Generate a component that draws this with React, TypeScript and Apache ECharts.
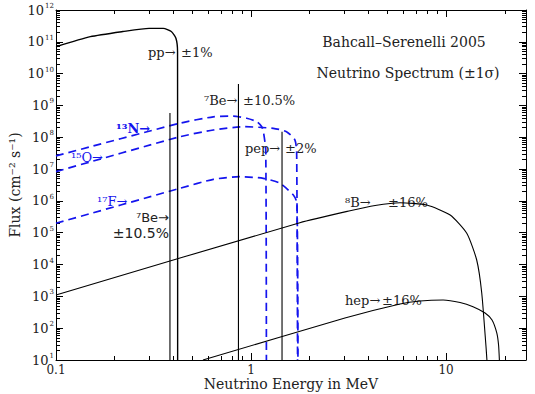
import React, { useEffect, useRef } from "react";
import * as echarts from "echarts";

// ---- Data (energy in MeV, flux in cm^-2 s^-1 [MeV^-1]) ----
const ppE = [0.1, 0.15, 0.22, 0.3, 0.355, 0.39, 0.412, 0.42, 0.4205];
const ppF = [7.0e10, 1.45e11, 2.1e11, 2.65e11, 2.65e11, 2.1e11, 1.3e11, 5e10, 10];

const n13E = [0.1, 0.43, 0.64, 0.81, 0.95, 1.07, 1.135, 1.16, 1.19, 1.199];
const n13F = [2.6e7, 2.75e8, 4.4e8, 4.65e8, 3.95e8, 3.1e8, 2.15e8, 1.35e8, 4e7, 10];

const o15E = [0.1, 0.432, 0.641, 0.913, 1.3, 1.52, 1.68, 1.714, 1.732];
const o15F = [8.3e6, 1.04e8, 1.69e8, 2.15e8, 1.91e8, 1.5e8, 8.2e7, 3.2e7, 10];

const f17E = [0.1, 0.432, 0.641, 0.878, 1.156, 1.408, 1.648, 1.72, 1.74];
const f17F = [1.98e5, 2.49e6, 4.78e6, 5.77e6, 5.13e6, 3.57e6, 1.53e6, 8.6e5, 10];

const b8E = [0.1, 1.78, 3.22, 4.33, 5.81, 7.96, 10.5, 12.77, 14.36, 15.24, 16.03, 16.2];
const b8F = [1.1e3, 2.07e5, 4.92e5, 7.17e5, 8.8e5, 7.43e5, 3.6e5, 9.6e4, 1.39e4, 1.28e3, 26, 10];

const hepE = [0.567, 3.03, 5.81, 7.36, 9.66, 11.8, 13.75, 15.85, 17.21, 18.2, 18.59, 18.77];
const hepF = [10, 209, 575, 715, 769, 641, 473, 300, 181, 71, 29.6, 10];

// Line sources (energy, flux at top of line)
const lineE = [0.384, 0.862, 1.442];
const lineF = [5.8e8, 4.7e9, 1.5e8];

// Axis ticks
const xMajor = [0.1, 1, 10];
const xMinor = [0.2, 0.3, 0.4, 0.5, 0.6, 0.7, 0.8, 0.9, 2, 3, 4, 5, 6, 7, 8, 9, 20];
const yExponents = [1, 2, 3, 4, 5, 6, 7, 8, 9, 10, 11, 12];
const yMinorMult = [2, 3, 4, 5, 6, 7, 8, 9];

const X_MIN = 0.1;
const X_MAX = 25.7;
const Y_MIN = 10;
const Y_MAX = 1e12;

const L = Math.log10;
const SERIF = "'DejaVu Serif', 'Liberation Serif', serif";
const SANS = "'DejaVu Sans', sans-serif";
const BLUE = "#1414ee";
const TXT = "#222";

const pts = (E: number[], F: number[]) => E.map((e, i) => [L(e), L(F[i])]);

function buildOption() {
  const xmin = L(X_MIN), xmax = L(X_MAX), ymin = L(Y_MIN), ymax = L(Y_MAX);
  const xMajorV = xMajor.map(L);
  const xMinorV = xMinor.map(L);
  const yMajorV = yExponents.slice();
  const yMinorV: number[] = [];
  for (let d = 1; d < 12; d++) yMinorMult.forEach((m) => yMinorV.push(L(m * Math.pow(10, d))));

  const lineStyle = { color: "#000", width: 1 };
  const baseX = {
    type: "value",
    min: xmin,
    max: xmax,
    splitLine: { show: false },
    axisLine: { show: true, onZero: false, lineStyle },
  };
  const baseY = {
    type: "value",
    min: ymin,
    max: ymax,
    splitLine: { show: false },
    axisLine: { show: true, onZero: false, lineStyle },
  };

  const xAxis = [
    {
      ...baseX,
      position: "bottom",
      axisTick: { inside: true, length: 7, customValues: xMajorV, lineStyle },
      axisLabel: {
        customValues: xMajorV,
        formatter: (v: number) => String(+Math.pow(10, v).toPrecision(3)),
        fontFamily: SERIF,
        fontSize: 12,
        lineHeight: 12,
        color: TXT,
        margin: 4,
      },
      name: "Neutrino Energy in MeV",
      nameLocation: "middle",
      nameGap: 17,
      nameMoveOverlap: false,
      nameTextStyle: { fontFamily: SERIF, fontSize: 14, lineHeight: 14, color: TXT, verticalAlign: "top" },
    },
    {
      ...baseX,
      position: "bottom",
      axisLine: { show: false, onZero: false },
      axisTick: { inside: true, length: 4, customValues: xMinorV, lineStyle },
      axisLabel: { show: false },
    },
    {
      ...baseX,
      position: "top",
      axisTick: { inside: true, length: 7, customValues: xMajorV, lineStyle },
      axisLabel: { show: false },
    },
    {
      ...baseX,
      position: "top",
      axisLine: { show: false, onZero: false },
      axisTick: { inside: true, length: 4, customValues: xMinorV, lineStyle },
      axisLabel: { show: false },
    },
  ];

  const yAxis = [
    {
      ...baseY,
      position: "left",
      axisTick: { inside: true, length: 7, customValues: yMajorV, lineStyle },
      axisLabel: {
        customValues: yMajorV,
        formatter: (v: number) => `{b|10}{e|${Math.round(v)}}`,
        margin: 2,
        rich: {
          b: { fontFamily: SERIF, fontSize: 13, color: TXT, lineHeight: 15 },
          e: { fontFamily: SERIF, fontSize: 7, color: TXT, lineHeight: 8, padding: [0, 0, 8, 1] },
        },
      },
      name: "Flux (cm\u207B\u00B2 s\u207B\u00B9)",
      nameLocation: "middle",
      nameRotate: 90,
      nameGap: 34,
      nameMoveOverlap: false,
      nameTextStyle: { fontFamily: SERIF, fontSize: 14, color: TXT },
    },
    {
      ...baseY,
      position: "left",
      axisLine: { show: false, onZero: false },
      axisTick: { inside: true, length: 4, customValues: yMinorV, lineStyle },
      axisLabel: { show: false },
    },
    {
      ...baseY,
      position: "right",
      axisTick: { inside: true, length: 7, customValues: yMajorV, lineStyle },
      axisLabel: { show: false },
    },
    {
      ...baseY,
      position: "right",
      axisLine: { show: false, onZero: false },
      axisTick: { inside: true, length: 4, customValues: yMinorV, lineStyle },
      axisLabel: { show: false },
    },
  ];

  const curve = (name: string, E: number[], F: number[], color: string, width: number, dashed: boolean) => ({
    name,
    type: "line",
    xAxisIndex: 0,
    yAxisIndex: 0,
    data: pts(E, F),
    showSymbol: false,
    symbol: "none",
    smooth: 0.2,
    clip: true,
    lineStyle: { color, width, type: dashed ? [8, 5] : "solid" },
    silent: true,
  });

  const series: any[] = [
    curve("pp", ppE, ppF, "#000", 1.4, false),
    curve("13N", n13E, n13F, BLUE, 1.7, true),
    curve("15O", o15E, o15F, BLUE, 1.7, true),
    curve("17F", f17E, f17F, BLUE, 1.7, true),
    curve("8B", b8E, b8F, "#000", 1.1, false),
    curve("hep", hepE, hepF, "#000", 1.1, false),
  ];
  lineE.forEach((e, i) => {
    series.push({
      name: "line" + i,
      type: "line",
      xAxisIndex: 0,
      yAxisIndex: 0,
      data: [[L(e), ymin], [L(e), L(lineF[i])]],
      showSymbol: false,
      symbol: "none",
      lineStyle: { color: "#000", width: 1.1 },
      silent: true,
    });
  });

  const t = (text: string, x: number, y: number, opts: any = {}) => ({
    type: "text",
    x,
    y,
    silent: true,
    style: {
      text,
      fontFamily: SERIF,
      fontSize: 13,
      fill: TXT,
      align: "left",
      verticalAlign: "middle",
      ...opts,
    },
  });

  const graphic = [
    t("Bahcall\u2013Serenelli 2005", 404, 42, { align: "center", fontSize: 14 }),
    t("Neutrino Spectrum (\u00B11\u03C3)", 408, 73, { align: "center", fontSize: 14 }),
    t("pp\u2192", 148, 52),
    t("\u00B11%", 181, 52),
    t("\u2077Be\u2192", 204, 100),
    t("\u00B110.5%", 243, 100),
    t("pep\u2192", 245, 148),
    t("\u00B12%", 285, 148),
    t("\u2078B\u2192", 345, 202),
    t("\u00B116%", 388, 202),
    t("hep\u2192", 345, 300),
    t("\u00B116%", 382, 300),
    t("\u2077Be\u2192", 169, 217, { align: "right", fontFamily: SANS, fontSize: 13 }),
    t("\u00B110.5%", 169, 233, { align: "right", fontFamily: SANS, fontSize: 14 }),
    t("\u00B9\u00B3N\u2192", 116, 128, { fill: BLUE, fontWeight: "bold" }),
    t("\u00B9\u2075O\u2192", 71, 157, { fill: BLUE }),
    t("\u00B9\u2077F\u2192", 97, 201, { fill: BLUE }),
  ];

  return {
    animation: false,
    backgroundColor: "#fff",
    grid: { left: 56, right: 9, top: 10, bottom: 34, containLabel: false, outerBoundsMode: "none" },
    xAxis,
    yAxis,
    series,
    graphic,
  };
}

export default function App() {
  const ref = useRef<HTMLDivElement>(null);
  useEffect(() => {
    document.body.style.margin = "0";
    const chart = echarts.init(ref.current!, null, { renderer: "svg" });
    chart.setOption(buildOption() as any);
    return () => chart.dispose();
  }, []);
  return <div ref={ref} style={{ width: 535, height: 394 }} />;
}
